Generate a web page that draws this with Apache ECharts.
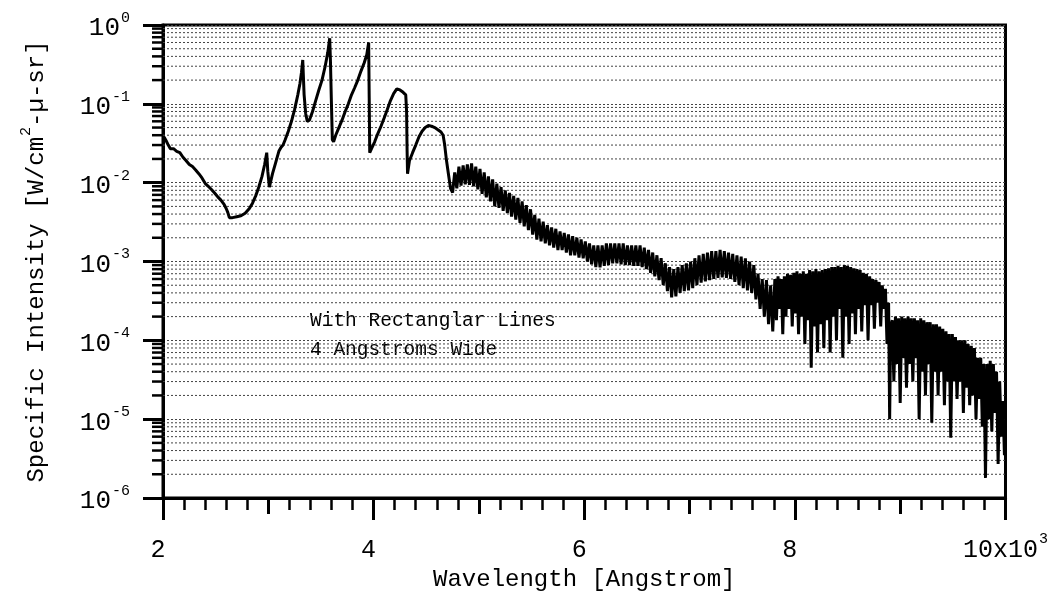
<!DOCTYPE html>
<html>
<head>
<meta charset="utf-8">
<script src="https://cdn.jsdelivr.net/npm/echarts@6/dist/echarts.min.js"></script>
</head>
<body style="margin:0;background:#fff">
<div id="main" style="width:1051px;height:604px;"></div>
<script>
var FONT = '"Liberation Mono", "DejaVu Sans Mono", monospace';

// axis ranges and tick values
var xMin = 2000, xMax = 10000;
var yMin = 1e-6, yMax = 1;
var minorExp = [-6, -5, -4, -3, -2, -1];
var minorMant = [2, 3, 4, 5, 6, 7, 8, 9];

// spectrum: [wavelength (Angstrom), intensity]
// UV part, steep edges and peaks
var uvPart = [
  [2010,0.038],[2030,0.034],[2050,0.030],[2070,0.027],[2100,0.027],[2130,0.025],[2160,0.024],
  [2190,0.021],[2220,0.019],[2250,0.017],[2280,0.016],[2310,0.0145],[2340,0.013],[2370,0.0115],
  [2400,0.0098],[2430,0.009],[2460,0.0082],[2490,0.0074],[2520,0.0066],[2550,0.006],[2580,0.0053],
  [2600,0.0047],[2615,0.0042],[2630,0.0036],[2660,0.0036],[2700,0.0037],[2740,0.0038],[2780,0.0041],
  [2820,0.0047],[2850,0.0055],[2880,0.0068],[2910,0.0088],[2940,0.012],[2965,0.017],[2985,0.024],
  [2995,0.014],[3010,0.0088],[3040,0.013],[3070,0.018],[3100,0.025],[3120,0.028],[3140,0.03],
  [3160,0.035],[3190,0.045],[3220,0.06],[3250,0.085],[3280,0.13],[3300,0.18],[3315,0.25],
  [3327,0.36],[3340,0.13],[3355,0.075],[3370,0.06],[3390,0.062],[3420,0.08],[3450,0.11],
  [3480,0.15],[3510,0.2],[3540,0.3],[3565,0.45],[3583,0.68],[3590,0.35],[3598,0.12],[3608,0.035],
  [3620,0.033],[3640,0.04],[3670,0.05],[3700,0.062],[3730,0.08],[3760,0.1],[3790,0.13],
  [3820,0.16],[3850,0.2],[3880,0.26],[3910,0.33],[3935,0.42],[3953,0.6],[3958,0.12],[3963,0.024],
  [3980,0.027],[4010,0.033],[4040,0.042],[4070,0.052],[4100,0.066],[4130,0.085],[4160,0.11],
  [4190,0.135],[4220,0.155],[4250,0.15],[4280,0.14],[4305,0.13],[4313,0.08],[4318,0.025],
  [4322,0.013],[4340,0.019],[4370,0.024],[4400,0.03],[4430,0.038],[4460,0.045],[4490,0.05],
  [4520,0.053],[4550,0.052],[4580,0.05],[4610,0.047],[4640,0.044],[4660,0.04],[4675,0.03],
  [4690,0.02],[4710,0.013],[4730,0.0085]
];

// visible part, noisy band (alternating top / bottom of the band)
var visPart = [
  [4750,0.0075],[4770,0.0135],[4790,0.0085],[4810,0.016],[4830,0.0092],[4850,0.0165],[4870,0.0095],
  [4890,0.017],[4910,0.0094],[4930,0.0175],[4950,0.009],[4970,0.016],[4990,0.0082],[5010,0.015],
  [5030,0.0072],[5050,0.0135],[5070,0.0065],[5090,0.012],[5110,0.0058],[5130,0.011],[5150,0.005],
  [5170,0.0097],[5190,0.0048],[5210,0.0088],[5230,0.0044],[5250,0.008],[5270,0.0041],[5290,0.0074],
  [5310,0.0037],[5330,0.0068],[5350,0.0034],[5370,0.0064],[5390,0.0031],[5410,0.0058],[5430,0.0028],
  [5450,0.0052],[5470,0.0025],[5490,0.0046],[5510,0.0022],[5530,0.0039],[5550,0.0019],[5570,0.0035],
  [5590,0.0018],[5610,0.0032],[5630,0.0017],[5650,0.0029],[5670,0.0016],[5690,0.0027],[5710,0.0015],
  [5730,0.0026],[5750,0.0014],[5770,0.0024],[5790,0.0014],[5810,0.0023],[5830,0.0013],[5850,0.0022],
  [5870,0.0012],[5890,0.0021],[5910,0.0012],[5930,0.002],[5950,0.00112],[5970,0.0019],[5990,0.0011],
  [6010,0.0018],[6030,0.001],[6050,0.0017],[6070,0.00092],[6090,0.0016],[6110,0.00085],[6130,0.0016],
  [6150,0.00084],[6170,0.0016],[6190,0.00088],[6210,0.0017],[6230,0.0009],[6250,0.0017],[6270,0.00095],
  [6290,0.0017],[6310,0.00095],[6330,0.0017],[6350,0.00092],[6370,0.0017],[6390,0.0009],[6410,0.0016],
  [6430,0.0009],[6450,0.0016],[6470,0.00088],[6490,0.0016],[6510,0.00088],[6530,0.0016],[6550,0.00085],
  [6570,0.0015],[6590,0.0008],[6610,0.0014],[6630,0.00072],[6650,0.0013],[6670,0.00065],[6690,0.0012],
  [6710,0.00058],[6730,0.0011],[6750,0.0005],[6770,0.00095],[6790,0.00042],[6810,0.00085],[6830,0.00035],
  [6850,0.0008],[6870,0.00036],[6890,0.00085],[6910,0.0004],[6930,0.0009],[6950,0.00042],[6970,0.00095],
  [6990,0.00043],[7010,0.001],[7030,0.00046],[7050,0.0011],[7070,0.0005],[7090,0.0012],[7110,0.00054],
  [7130,0.00125],[7150,0.00056],[7170,0.0013],[7190,0.00058],[7210,0.00135],[7230,0.0006],[7250,0.00135],
  [7270,0.00062],[7290,0.0014],[7310,0.00063],[7330,0.00135],[7350,0.00062],[7370,0.0013],[7390,0.0006],
  [7410,0.00125],[7430,0.00055],[7450,0.0012],[7470,0.0005],[7490,0.00115],[7510,0.00046],[7530,0.0011],
  [7550,0.00043],[7570,0.001],[7590,0.0004],[7610,0.0009],[7630,0.00033],[7650,0.0007],[7670,0.00025],
  [7690,0.0006],[7710,0.0002],[7730,0.00058],[7750,0.00016],[7770,0.0005],[7790,0.00013]
];

// near infrared part, dense absorption spikes
var irPart = [
  [7810,0.0006],[7825,0.00018],[7840,0.00065],[7855,0.00025],[7870,0.0006],[7885,0.00012],[7900,0.00065],
  [7915,0.0002],[7930,0.0007],[7945,0.00025],[7960,0.00068],[7975,0.00015],[7990,0.00072],[8005,0.00022],
  [8020,0.00075],[8035,0.00012],[8050,0.0007],[8065,0.0002],[8080,0.00075],[8095,0.00009],[8110,0.0007],
  [8125,0.00018],[8140,0.00078],[8155,0.000045],[8170,0.00075],[8185,0.00015],[8200,0.0008],[8215,0.00007],
  [8230,0.00075],[8245,0.00016],[8260,0.00078],[8275,0.00008],[8290,0.0008],[8305,0.00018],[8320,0.00082],
  [8335,0.00007],[8350,0.00085],[8365,0.0002],[8380,0.00085],[8395,0.0001],[8410,0.00088],[8425,0.00025],
  [8440,0.00085],[8455,0.00006],[8470,0.0009],[8485,0.0002],[8500,0.00088],[8515,0.00009],[8530,0.00085],
  [8545,0.00022],[8560,0.00082],[8575,0.00012],[8590,0.0008],[8605,0.00025],[8620,0.00078],[8635,0.00013],
  [8650,0.00072],[8665,0.00028],[8680,0.0007],[8695,0.0001],[8710,0.00065],[8725,0.00028],[8740,0.0006],
  [8755,0.00014],[8770,0.00058],[8785,0.0003],[8800,0.00055],[8815,0.00015],[8830,0.0005],[8845,0.00025],
  [8860,0.00045],[8875,0.00009],[8890,0.0003],[8900,0.00001],[8910,0.00015],
  [8925,0.00018],[8940,0.00003],[8955,0.0002],[8970,0.00005],[8985,0.00019],[9000,0.000016],[9015,0.0002],
  [9030,0.00006],[9045,0.00019],[9060,0.000025],[9075,0.0002],[9090,0.00005],[9105,0.00019],[9120,0.00003],
  [9135,0.00019],[9150,0.00006],[9165,0.00018],[9180,0.00001],[9195,0.00019],[9210,0.00004],[9225,0.00018],
  [9240,0.00002],[9255,0.00017],[9270,0.00005],[9285,0.00017],[9300,0.000009],[9315,0.00016],[9330,0.00004],
  [9345,0.00016],[9360,0.00002],[9375,0.00015],[9390,0.00004],[9405,0.00014],[9420,0.000015],[9435,0.00013],
  [9450,0.00003],[9465,0.00012],[9480,0.0000058],[9495,0.00012],[9510,0.00003],[9525,0.00011],[9540,0.000018],
  [9555,0.0001],[9570,0.00003],[9585,0.0001],[9600,0.000012],[9615,0.0001],[9630,0.000025],[9645,0.00009],
  [9660,0.000015],[9675,0.000085],[9690,0.00002],[9705,0.00008],[9720,0.00001],[9735,0.00006],[9750,0.000018],
  [9765,0.00006],[9780,0.000008],[9795,0.00005],[9810,0.0000018],[9825,0.00005],[9840,0.00001],[9855,0.000055],
  [9870,0.000007],[9885,0.00005],[9900,0.000012],[9915,0.00004],[9930,0.0000027],[9945,0.00003],[9960,0.000006],
  [9975,0.000017],[9990,0.0000035],[10000,0.000008]
];

var spectrum = uvPart.concat(visPart, irPart);

// minor grid lines on the log axis (2..9 in each decade)
var minorData = [];
minorExp.forEach(function (e) {
  minorMant.forEach(function (m) {
    minorData.push([xMin, m * Math.pow(10, e)]);
  });
});

// superscript token: small line box pinned to the top of a taller line
var sup = { fontFamily: FONT, fontSize: 15, color: '#000', lineHeight: 15, verticalAlign: 'top', padding: [0, 0, 0, 1] };

var myChart = echarts.init(document.getElementById('main'));

var option = {
  backgroundColor: '#fff',
  animation: false,
  grid: {
    left: 163, right: 44, top: 25, bottom: 106,
    show: true, borderColor: '#000', borderWidth: 3
  },
  xAxis: [{
    type: 'value', min: xMin, max: xMax, interval: 2000,
    axisLine: { onZero: false, lineStyle: { color: '#000', width: 3 } },
    axisTick: { length: 22, lineStyle: { color: '#000', width: 3 } },
    minorTick: { show: true, splitNumber: 10, length: 12, lineStyle: { color: '#000', width: 2.5 } },
    splitLine: { show: false },
    axisLabel: {
      margin: 34,
      formatter: function (v) {
        if (v === 10000) return '{n|10x10}{s|3}';
        return '{n|' + (v / 1000) + '}{s| }';
      },
      rich: {
        n: { fontFamily: FONT, fontSize: 25, color: '#000', lineHeight: 31, verticalAlign: 'bottom' },
        s: sup
      }
    },
    name: 'Wavelength [Angstrom]',
    nameLocation: 'middle',
    nameGap: 70,
    nameTextStyle: { fontFamily: FONT, fontSize: 24, color: '#000' }
  }, {
    type: 'value', min: xMin, max: xMax, interval: 1000, position: 'bottom',
    axisLine: { show: false, onZero: false },
    axisTick: { length: 16, lineStyle: { color: '#000', width: 3 } },
    axisLabel: { show: false },
    splitLine: { show: false }
  }],
  yAxis: {
    type: 'log', logBase: 10, min: yMin, max: yMax, splitNumber: 6,
    axisLine: { show: true, lineStyle: { color: '#000', width: 3 } },
    axisTick: { show: true, length: 20, lineStyle: { color: '#000', width: 3 } },
    splitLine: { show: true, lineStyle: { color: '#444', width: 1, type: [2, 2] } },
    axisLabel: {
      margin: 33,
      padding: [2, 0, 0, 0],
      formatter: function (v) {
        var e = Math.round(Math.log10(v));
        return '{b|10}{s|' + e + '}';
      },
      rich: {
        b: { fontFamily: FONT, fontSize: 26, color: '#000', lineHeight: 31, verticalAlign: 'bottom' },
        s: sup
      }
    },
    name: '{t|Specific Intensity [W/cm}{s|2}{t|-\u00b5-sr]}',
    nameLocation: 'middle',
    nameGap: 114,
    nameTextStyle: {
      rich: {
        t: { fontFamily: FONT, fontSize: 24, color: '#000', lineHeight: 30, verticalAlign: 'bottom' },
        s: sup
      }
    }
  },
  graphic: [
    { type: 'text', left: 310, top: 311, style: { text: 'With Rectanglar Lines', font: '19.5px ' + FONT, fill: '#000' } },
    { type: 'text', left: 310, top: 340, style: { text: '4 Angstroms Wide', font: '19.5px ' + FONT, fill: '#000' } }
  ],
  series: [{
    type: 'custom',
    silent: true,
    clip: false,
    z: 1,
    encode: { x: 0, y: 1 },
    data: minorData,
    renderItem: function (params, api) {
      var v = api.value(1);
      var a = api.coord([xMin, v]);
      var b = api.coord([xMax, v]);
      return {
        type: 'group',
        children: [{
          type: 'line',
          shape: { x1: a[0], y1: a[1], x2: b[0], y2: b[1] },
          style: { stroke: '#444', lineWidth: 1, lineDash: [2, 2] }
        }, {
          type: 'line',
          shape: { x1: a[0] - 11, y1: a[1], x2: a[0], y2: a[1] },
          style: { stroke: '#000', lineWidth: 2.5 }
        }]
      };
    }
  }, {
    type: 'line',
    data: spectrum,
    showSymbol: false,
    z: 3,
    lineStyle: { color: '#000', width: 3, join: 'bevel' }
  }]
};

myChart.setOption(option);
</script>
</body>
</html>
